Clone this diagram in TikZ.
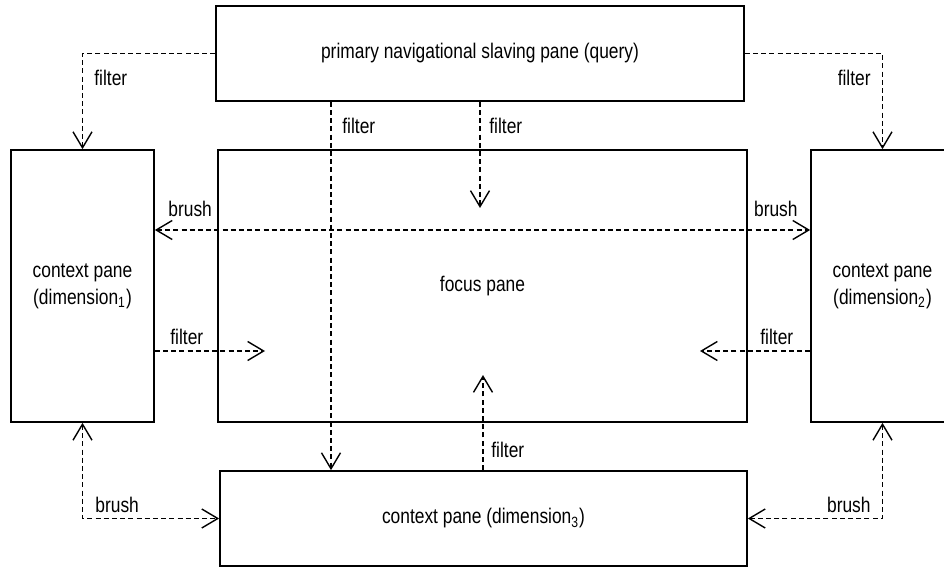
\documentclass[tikz,border=0pt]{standalone}
\usepackage{fontspec}
\setmainfont[FakeStretch=0.82]{Liberation Sans}
\usetikzlibrary{positioning,calc,arrows.meta}

\begin{document}
\begin{tikzpicture}[
    x=0.5pt, y=-0.5pt,
    >={Straight Barb[length=8pt, width=9.5pt]},
    pane/.style={draw, line width=0.85pt, inner sep=0pt, align=center, font=\fontsize{10.6}{13.5}\selectfont},
    link/.style={draw, line width=0.7pt, dash pattern=on 2.5pt off 1.6pt, ->},
    tag/.style={inner sep=0pt, font=\fontsize{10.6}{13}\selectfont}
]

\useasboundingbox (0,0) rectangle (944,567);

% Define pane positions
\node[pane, minimum width=264pt, minimum height=47.5pt] (query) at (480,53.5) {primary navigational slaving pane (query)};
\node[pane, minimum width=71.5pt, minimum height=136pt] (ctx1) at (82.5,286) {context pane\\(dimension\textsubscript{1})};
\node[pane, minimum width=264.5pt, minimum height=136pt] (focus) at (482.5,286) {focus pane};
\node[pane, minimum width=71.5pt, minimum height=136pt] (ctx2) at (882.5,286) {context pane\\(dimension\textsubscript{2})};
\node[pane, minimum width=263.5pt, minimum height=47.5pt] (ctx3) at (483.5,518.5) {context pane (dimension\textsubscript{3})};

% Free ends and bends of the links
\coordinate (q3) at (331,0);
\coordinate (fq) at (480,208);
\coordinate (b12) at (0,230);
\coordinate (f1) at (265,351);
\coordinate (f2) at (700,351);
\coordinate (f3) at (483,375);

% Draw links
\draw[link] (query.west) -| (ctx1.north);
\draw[link] (query.east) -| (ctx2.north);
\draw[link] (query.south -| q3) -- (ctx3.north -| q3);
\draw[link] (query.south) -- (fq);
\draw[link, <->] (ctx1.east |- b12) -- (ctx2.west |- b12);
\draw[link] (ctx1.east |- f1) -- (f1);
\draw[link] (ctx2.west |- f2) -- (f2);
\draw[link] (ctx3.north -| f3) -- (f3);
\draw[link, <->] (ctx1.south) |- (ctx3.west);
\draw[link, <->] (ctx2.south) |- (ctx3.east);

% Add link labels
\node[tag, anchor=west] (tq1) at (94,78) {filter};
\node[tag, anchor=east] (tq2) at (871,78) {filter};
\node[tag, anchor=west] (tq3) at (342,126) {filter};
\node[tag, anchor=west] (tq4) at (489,126) {filter};
\node[tag, anchor=west] (tb1) at (168,209) {brush};
\node[tag, anchor=east] (tb2) at (798,209) {brush};
\node[tag, anchor=west] (tf1) at (170,337) {filter};
\node[tag, anchor=west] (tf2) at (760,337) {filter};
\node[tag, anchor=west] (tf3) at (491,450) {filter};
\node[tag, anchor=west] (tb3) at (95,505) {brush};
\node[tag, anchor=east] (tb4) at (871,505) {brush};

\end{tikzpicture}
\end{document}
